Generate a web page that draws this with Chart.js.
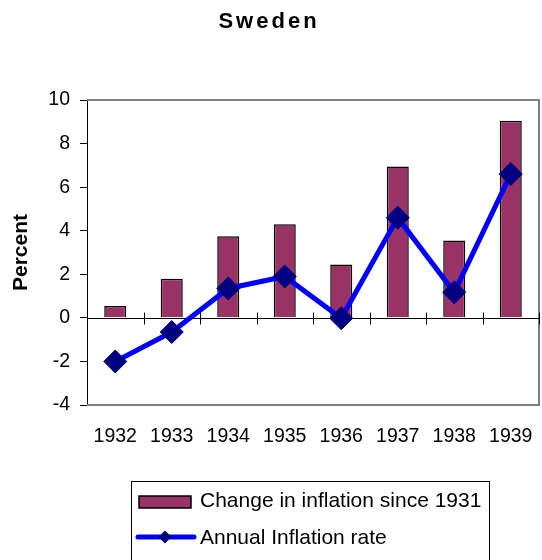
<!DOCTYPE html>
<html>
<head>
<meta charset="utf-8">
<title>Sweden</title>
<script src="https://cdn.jsdelivr.net/npm/chart.js@4/dist/chart.umd.min.js"></script>
<style>
  html, body { margin: 0; padding: 0; background: #fff; }
  canvas { display: block; }
</style>
</head>
<body>
<canvas id="chart" width="542" height="560"></canvas>
<script>
// data
var years = ["1932", "1933", "1934", "1935", "1936", "1937", "1938", "1939"];
var changeSince1931 = [0.55, 1.8, 3.75, 4.3, 2.45, 6.95, 3.55, 9.05];
var annualRate = [-2.0, -0.65, 1.35, 1.9, -0.02, 4.6, 1.17, 6.6];
var yTicks = [-4, -2, 0, 2, 4, 6, 8, 10];

var barName = "Change in inflation since 1931";
var lineName = "Annual Inflation rate";
var FONT = "'Liberation Sans', Arial, sans-serif";

Chart.defaults.color = "#000000";
Chart.defaults.font.family = FONT;

// grey frame round the plot, plus the zero line with its category ticks
var framePlugin = {
    id: "frame",
    beforeDatasetsDraw: function (chart) {
        var ctx = chart.ctx;
        var a = chart.chartArea;
        var x = chart.scales.x;
        var y0 = Math.round(chart.scales.y.getPixelForValue(0)) + 0.5;
        ctx.save();
        ctx.strokeStyle = "#808080";
        ctx.lineWidth = 2;
        ctx.beginPath();
        ctx.moveTo(a.left, a.top);
        ctx.lineTo(a.right, a.top);
        ctx.lineTo(a.right, a.bottom);
        ctx.lineTo(a.left, a.bottom);
        ctx.stroke();

        ctx.strokeStyle = "#000000";
        ctx.lineWidth = 1;
        ctx.beginPath();
        ctx.moveTo(a.left, y0);
        ctx.lineTo(a.right, y0);
        var half = (x.getPixelForValue(1) - x.getPixelForValue(0)) / 2;
        for (var i = 0; i < years.length; i++) {
            var tx = Math.round(x.getPixelForValue(i) + half) + 0.5;
            ctx.moveTo(tx, y0 - 6);
            ctx.lineTo(tx, y0 + 6);
        }
        ctx.stroke();
        ctx.restore();
    }
};

// title and boxed legend
var textPlugin = {
    id: "texts",
    afterDraw: function (chart) {
        var ctx = chart.ctx;
        ctx.save();
        ctx.fillStyle = "#000000";
        ctx.font = "bold 22px " + FONT;
        ctx.textAlign = "center";
        ctx.textBaseline = "alphabetic";
        if ("letterSpacing" in ctx) ctx.letterSpacing = "3px";
        ctx.fillText("Sweden", 269, 28);
        if ("letterSpacing" in ctx) ctx.letterSpacing = "0px";

        // legend box
        ctx.strokeStyle = "#000000";
        ctx.lineWidth = 1;
        ctx.strokeRect(131.5, 481.5, 358, 100);

        ctx.fillStyle = "#993366";
        ctx.fillRect(139, 496, 52, 12);
        ctx.lineWidth = 1.5;
        ctx.strokeRect(139, 496, 52, 12);

        ctx.strokeStyle = "#0000ff";
        ctx.lineWidth = 5;
        ctx.lineCap = "round";
        ctx.beginPath();
        ctx.moveTo(138, 537);
        ctx.lineTo(194, 537);
        ctx.stroke();
        ctx.fillStyle = "#000080";
        ctx.beginPath();
        ctx.moveTo(165, 530.5);
        ctx.lineTo(171.5, 537);
        ctx.lineTo(165, 543.5);
        ctx.lineTo(158.5, 537);
        ctx.closePath();
        ctx.fill();

        ctx.fillStyle = "#000000";
        ctx.font = "21px " + FONT;
        ctx.textAlign = "left";
        ctx.fillText(barName, 200, 506.5);
        ctx.fillText(lineName, 200, 544);
        ctx.restore();
    }
};

var chart = new Chart(document.getElementById("chart"), {
    type: "bar",
    data: {
        labels: years,
        datasets: [
            {
                type: "line",
                label: lineName,
                data: annualRate,
                order: 0,
                borderColor: "#0000ff",
                borderWidth: 5,
                tension: 0,
                pointStyle: "rectRot",
                pointRadius: 11.5,
                pointBackgroundColor: "#000080",
                pointBorderColor: "#000080",
                pointBorderWidth: 1
            },
            {
                type: "bar",
                label: barName,
                data: changeSince1931,
                order: 1,
                backgroundColor: "#993366",
                borderColor: "#000000",
                borderWidth: 1.5,
                barPercentage: 0.39,
                categoryPercentage: 1
            }
        ]
    },
    options: {
        responsive: false,
        animation: false,
        devicePixelRatio: 1,
        layout: {
            autoPadding: false,
            padding: { top: 100, right: 3, bottom: 110, left: 0 }
        },
        scales: {
            x: {
                offset: true,
                grid: { display: false, drawTicks: true, tickLength: 20 },
                border: { display: false },
                ticks: {
                    padding: 0,
                    maxRotation: 0,
                    font: { size: 19.5 }
                },
                afterFit: function (scale) {
                    scale.height = 45;
                    scale.paddingLeft = 0;
                    scale.paddingRight = 0;
                }
            },
            y: {
                min: -4,
                max: 10,
                afterBuildTicks: function (scale) {
                    scale.ticks = yTicks.map(function (v) { return { value: v }; });
                },
                grid: {
                    drawOnChartArea: false,
                    drawTicks: true,
                    tickLength: 7,
                    color: "#000000"
                },
                border: { display: true, color: "#000000", width: 1 },
                ticks: {
                    padding: 10,
                    font: { size: 19.5 }
                },
                title: {
                    display: true,
                    text: "Percent",
                    font: { size: 21, weight: "bold" },
                    padding: { top: 9, bottom: 0 }
                },
                afterFit: function (scale) {
                    scale.width = 87;
                }
            }
        },
        plugins: {
            legend: { display: false },
            title: { display: false },
            tooltip: { enabled: false }
        }
    },
    plugins: [framePlugin, textPlugin]
});
</script>
</body>
</html>
